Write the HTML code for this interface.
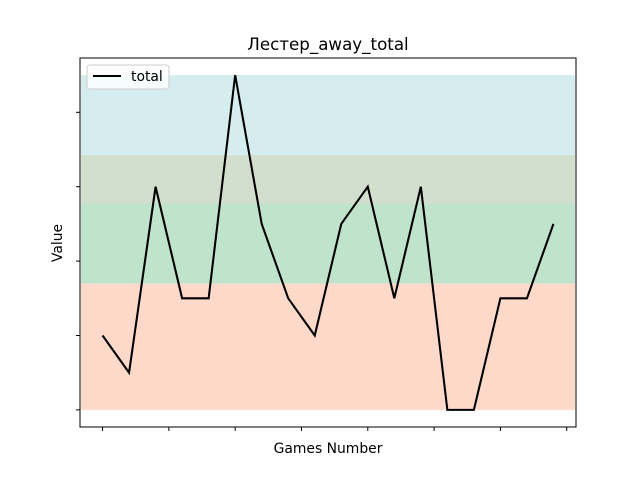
<!DOCTYPE html>
<html><head><meta charset="utf-8"><style>body{margin:0;background:#fff}svg{display:block}text{font-family:"DejaVu Sans","Liberation Sans",sans-serif;fill:#000}</style></head>
<body>
<svg id="chart" width="640" height="480">
<text x="328" y="50" font-size="16.7" text-anchor="middle">Лестер_away_total</text>
<g id="bands"></g>
<g id="ticks"></g>
<polyline id="line" fill="none" stroke="#000" stroke-width="2.08"/>
<rect x="80" y="58" width="496" height="369" fill="none" stroke="#000" stroke-width="1"/>
<text x="328" y="453" font-size="13.9" text-anchor="middle">Games Number</text>
<text x="62" y="243" font-size="13.9" text-anchor="middle" transform="rotate(-90 62 243)">Value</text>
<g>
<rect x="87" y="65" width="82" height="24" rx="3" fill="#fff" fill-opacity="0.8" stroke="#ccc"/>
<line x1="93" y1="76" x2="121" y2="76" stroke="#000" stroke-width="2.08"/>
<text x="131" y="81" font-size="13.9">total</text>
</g>
</svg>
<script>
const values=[2,1,6,3,3,9,5,3,2,5,6,3,6,0,0,3,3,5];
const bandLows=[0,3.4,5.55,6.85];
const bandHighs=[3.4,5.55,6.85,9];
const bandColors=["#fdd9c9","#bfe3cb","#d3dfcd","#d6edf0"];
const yTicks=[0,2,4,6,8];
const xTicks=[0,2.5,5,7.5,10,12.5,15,17.5];
const X0=80,X1=576,Y0=427,Y1=58,xmin=-0.85,xmax=17.85,ymin=-0.46,ymax=9.46;
const sx=v=>X0+(v-xmin)/(xmax-xmin)*(X1-X0);
const sy=v=>Y0-(v-ymin)/(ymax-ymin)*(Y0-Y1);
const NS="http://www.w3.org/2000/svg";
const bands=document.getElementById('bands');
bandLows.forEach((lo,i)=>{const r=document.createElementNS(NS,'rect');
r.setAttribute('x',X0+1);r.setAttribute('width',X1-X0-2);
r.setAttribute('y',sy(bandHighs[i]));r.setAttribute('height',sy(lo)-sy(bandHighs[i]));
r.setAttribute('fill',bandColors[i]);


bands.appendChild(r);});
const tk=document.getElementById('ticks');
yTicks.forEach(v=>{const l=document.createElementNS(NS,'line');
l.setAttribute('x1',X0-4);l.setAttribute('x2',X0);l.setAttribute('y1',sy(v));l.setAttribute('y2',sy(v));l.setAttribute('stroke','#000');


tk.appendChild(l);});
xTicks.forEach(v=>{const l=document.createElementNS(NS,'line');
l.setAttribute('x1',sx(v));l.setAttribute('x2',sx(v));l.setAttribute('y1',Y0);l.setAttribute('y2',Y0+4);l.setAttribute('stroke','#000');


tk.appendChild(l);});
document.getElementById('line').setAttribute('points',values.map((v,i)=>sx(i)+','+sy(v)).join(' '));
</script>
</body></html>
